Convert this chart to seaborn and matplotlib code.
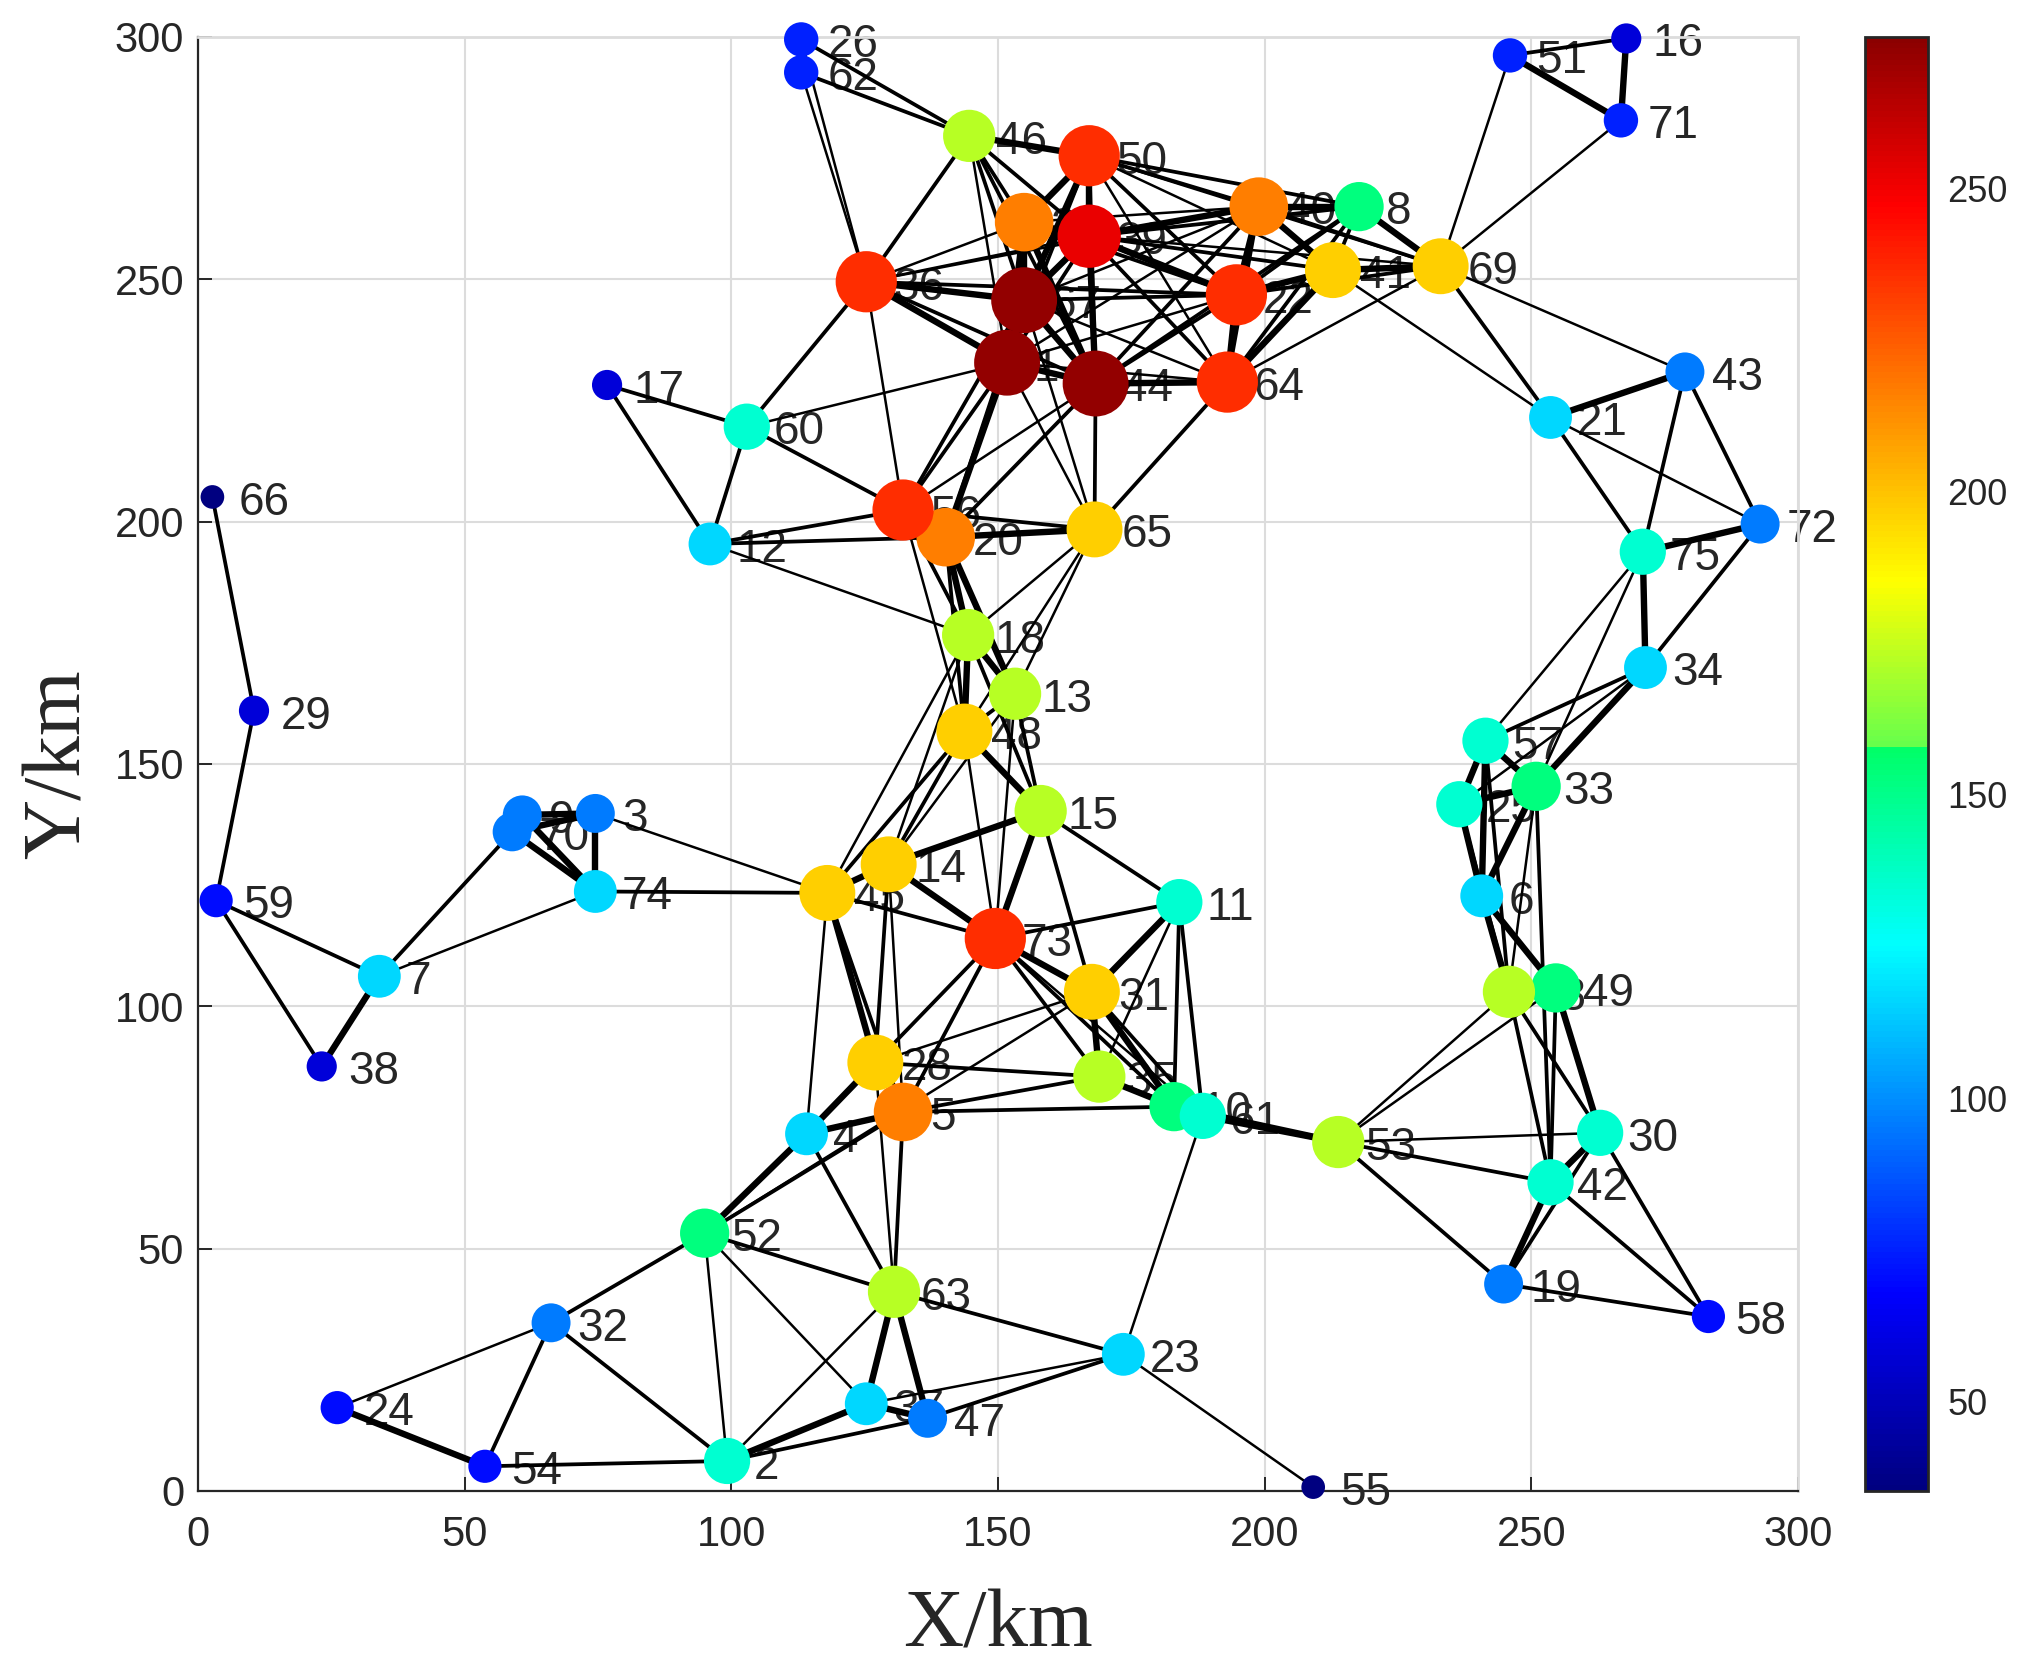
import matplotlib
matplotlib.use('Agg')
import numpy as np
import pandas as pd
import matplotlib.pyplot as plt
import seaborn as sns
from matplotlib.collections import LineCollection
from matplotlib.colors import LinearSegmentedColormap, Normalize
from matplotlib.cm import ScalarMappable

sns.set_style('whitegrid')
plt.rcParams['font.family'] = ['Liberation Sans', 'DejaVu Sans']

# node positions in km, index = node id - 1
node_x = [151.7, 99.2, 74.5, 114.1, 132.2, 240.7, 34.0, 217.7, 60.8, 183.0,
          184.0, 96.0, 153.2, 129.5, 158.0, 267.8, 76.7, 144.4, 244.8, 140.2,
          253.6, 194.7, 173.5, 26.1, 236.5, 113.1, 154.9, 127.0, 10.5, 262.9,
          167.6, 66.2, 250.9, 271.4, 169.0, 125.3, 125.3, 23.2, 167.1, 198.9,
          212.8, 253.6, 278.8, 168.3, 118.0, 144.6, 136.8, 143.7, 254.6, 167.1,
          246.0, 95.0, 213.8, 53.8, 209.1, 132.2, 241.4, 283.2, 3.4, 102.9,
          188.4, 113.1, 130.5, 193.0, 168.1, 2.7, 154.9, 245.8, 233.0, 58.9,
          266.8, 292.9, 149.5, 74.5, 270.9]
node_y = [232.8, 6.2, 139.8, 73.7, 78.2, 122.8, 106.2, 265.0, 139.5, 79.3,
          121.5, 195.4, 164.5, 129.3, 140.3, 299.7, 228.2, 176.6, 42.7, 196.8,
          221.5, 246.8, 28.2, 17.2, 141.7, 299.5, 261.8, 88.4, 161.0, 73.9,
          103.0, 34.7, 145.4, 169.9, 85.5, 249.5, 18.0, 87.6, 258.9, 265.0,
          251.9, 63.7, 230.9, 228.5, 123.4, 279.6, 15.0, 156.7, 103.8, 275.5,
          296.2, 53.2, 72.0, 5.1, 0.8, 202.4, 154.8, 36.0, 121.8, 219.6,
          77.4, 292.7, 41.1, 228.8, 198.4, 205.1, 245.7, 103.0, 252.7, 136.0,
          282.8, 199.5, 114.0, 123.7, 193.8]
node_val = [273, 135, 96, 116, 216, 116, 116, 153, 96, 153,
            135, 116, 172, 197, 172, 58, 58, 172, 96, 216,
            116, 236, 116, 70, 135, 75, 216, 197, 58, 135,
            197, 96, 153, 116, 172, 236, 116, 58, 252, 216,
            197, 135, 96, 273, 197, 172, 96, 197, 153, 236,
            75, 153, 172, 70, 36, 236, 135, 70, 70, 135,
            135, 75, 172, 236, 197, 36, 273, 172, 197, 96,
            75, 96, 236, 116, 135]

# links by strength, thin to thick
links_weak = [(7, 74), (3, 45), (45, 4), (45, 18), (14, 18), (14, 13), (14, 5),
              (28, 63), (48, 73), (13, 73), (73, 61), (31, 28), (31, 52), (11, 35),
              (61, 23), (52, 2), (52, 37), (63, 2), (37, 23), (32, 24), (23, 55),
              (53, 68), (53, 49), (53, 30), (33, 68), (25, 34), (33, 75), (57, 75),
              (21, 72), (69, 43), (41, 21), (51, 69), (71, 69), (26, 36), (62, 36),
              (46, 1), (60, 1), (12, 18), (56, 36), (56, 48), (18, 65), (13, 65),
              (48, 65), (65, 1), (65, 67), (36, 27), (36, 39), (36, 40), (50, 41),
              (50, 69), (50, 64), (27, 40), (39, 69), (67, 64), (67, 40), (1, 64),
              (1, 22), (1, 40), (44, 56), (64, 69)]
links_mid = [(66, 29), (29, 59), (59, 7), (59, 38), (7, 70), (74, 45), (45, 73),
             (45, 5), (14, 28), (48, 14), (48, 45), (48, 13), (13, 15), (18, 15),
             (15, 31), (15, 11), (73, 11), (73, 35), (73, 10), (73, 28), (73, 5),
             (31, 61), (28, 35), (5, 35), (5, 10), (11, 10), (11, 61), (35, 61),
             (4, 63), (52, 63), (5, 52), (5, 63), (52, 32), (63, 23), (47, 2),
             (47, 23), (2, 54), (2, 32), (32, 54), (53, 42), (53, 19), (68, 42),
             (68, 30), (49, 42), (33, 42), (42, 58), (30, 19), (30, 58), (19, 58),
             (25, 68), (57, 68), (57, 34), (34, 72), (21, 75), (43, 75), (43, 72),
             (69, 21), (51, 16), (26, 46), (62, 46), (46, 36), (46, 27), (46, 39),
             (46, 67), (46, 44), (36, 60), (60, 17), (60, 12), (60, 56), (17, 12),
             (12, 56), (12, 20), (56, 65), (56, 18), (20, 48), (65, 44), (65, 64),
             (36, 22), (36, 44), (50, 1), (50, 44), (50, 40), (50, 8), (50, 22),
             (27, 22), (39, 1), (39, 8), (39, 41), (39, 64), (67, 22), (1, 56),
             (44, 22), (44, 40), (44, 8), (44, 20), (64, 40), (64, 8), (22, 8),
             (22, 69), (40, 69), (8, 41), (67, 56), (67, 20)]
links_strong = [(7, 38), (9, 3), (70, 3), (9, 74), (70, 74), (3, 74), (9, 70),
                (45, 14), (45, 28), (14, 15), (14, 73), (48, 15), (48, 18), (13, 18),
                (15, 73), (73, 31), (31, 11), (31, 35), (31, 10), (5, 4), (28, 4),
                (35, 10), (10, 61), (61, 53), (10, 53), (4, 52), (63, 37), (63, 47),
                (37, 47), (37, 2), (24, 54), (49, 30), (42, 30), (42, 19), (6, 68),
                (6, 49), (25, 6), (57, 6), (57, 25), (57, 33), (25, 33), (33, 6),
                (33, 34), (75, 34), (75, 72), (21, 43), (51, 71), (16, 71), (46, 50),
                (20, 65), (56, 20), (20, 18), (20, 13), (36, 67), (36, 1), (50, 27),
                (50, 39), (50, 67), (27, 39), (27, 67), (27, 1), (27, 44), (39, 67),
                (39, 44), (39, 40), (39, 22), (67, 1), (67, 44), (1, 44), (1, 20),
                (44, 64), (64, 22), (64, 41), (22, 40), (22, 41), (40, 8), (40, 41),
                (8, 69), (41, 69)]

cbar_ticks = [50, 100, 150, 200, 250]
axis_ticks = [0, 50, 100, 150, 200, 250, 300]

df = pd.DataFrame({'id': range(1, len(node_x) + 1), 'x': node_x, 'y': node_y, 'val': node_val})

# jet-like map, the green band has a jump in the original colorbar
cmap = LinearSegmentedColormap.from_list('jet_mod', [
    (0.0, '#000080'), (0.135, '#0000ff'), (0.375, '#00ffff'), (0.5115, '#00ff66'),
    (0.5125, '#66ff4c'), (0.626, '#ffff00'), (0.885, '#ff0000'), (1.0, '#8b0000')], N=256)
norm = Normalize(35.2, 275)

W, H = 2040, 1680
fig = plt.figure(figsize=(W / 100, H / 100), dpi=100)
ax = fig.add_axes([198 / W, 1 - 1491 / H, (1798 - 198) / W, (1491 - 37) / H])
ink = '#262626'

for links, lw in [(links_weak, 1.8), (links_mid, 2.7), (links_strong, 4.6)]:
    segs = [[(node_x[a - 1], node_y[a - 1]), (node_x[b - 1], node_y[b - 1])] for a, b in links]
    ax.add_collection(LineCollection(segs, colors='k', linewidths=lw, zorder=2.5))

sns.scatterplot(data=df, x='x', y='y', hue='val', size='val', hue_norm=norm, palette=cmap,
                sizes=(290, 2250), linewidth=0, legend=False, ax=ax, zorder=3, clip_on=False)

for _, row in df.iterrows():
    ax.text(row['x'] + 5, row['y'] - 1.2, str(int(row['id'])), fontsize=33, color=ink,
            va='center', ha='left', zorder=1.5)

ax.set_xlim(0, 300)
ax.set_ylim(0, 300)
ax.set_xticks(axis_ticks)
ax.set_yticks(axis_ticks)
ax.grid(True, color='#dcdcdc', linewidth=1.5)
ax.set_axisbelow(True)
ax.tick_params(direction='in', length=10, width=1.4, color=ink, labelcolor=ink, labelsize=30,
               left=True, bottom=True)
ax.tick_params(axis='x', pad=17)
ax.tick_params(axis='y', pad=10)
for side, spine in ax.spines.items():
    spine.set_visible(True)
    spine.set_linewidth(1.6 if side in ('left', 'bottom') else 2)
    spine.set_color(ink if side in ('left', 'bottom') else '#dcdcdc')
ax.set_xlabel('X/km', fontsize=60, family='Liberation Serif', color=ink, labelpad=25)
ax.set_ylabel('Y/km', fontsize=60, family='Liberation Serif', color=ink, labelpad=12)

cax = fig.add_axes([1865 / W, 1 - 1491 / H, (1928 - 1865) / W, (1491 - 37) / H])
cb = fig.colorbar(ScalarMappable(norm=norm, cmap=cmap), cax=cax, ticks=cbar_ticks)
cb.ax.tick_params(direction='in', length=12, width=1.4, color=ink, labelcolor=ink, labelsize=26, pad=14)
cb.outline.set_edgecolor(ink)
cb.outline.set_linewidth(2)

fig.savefig('out.png', dpi=100)
